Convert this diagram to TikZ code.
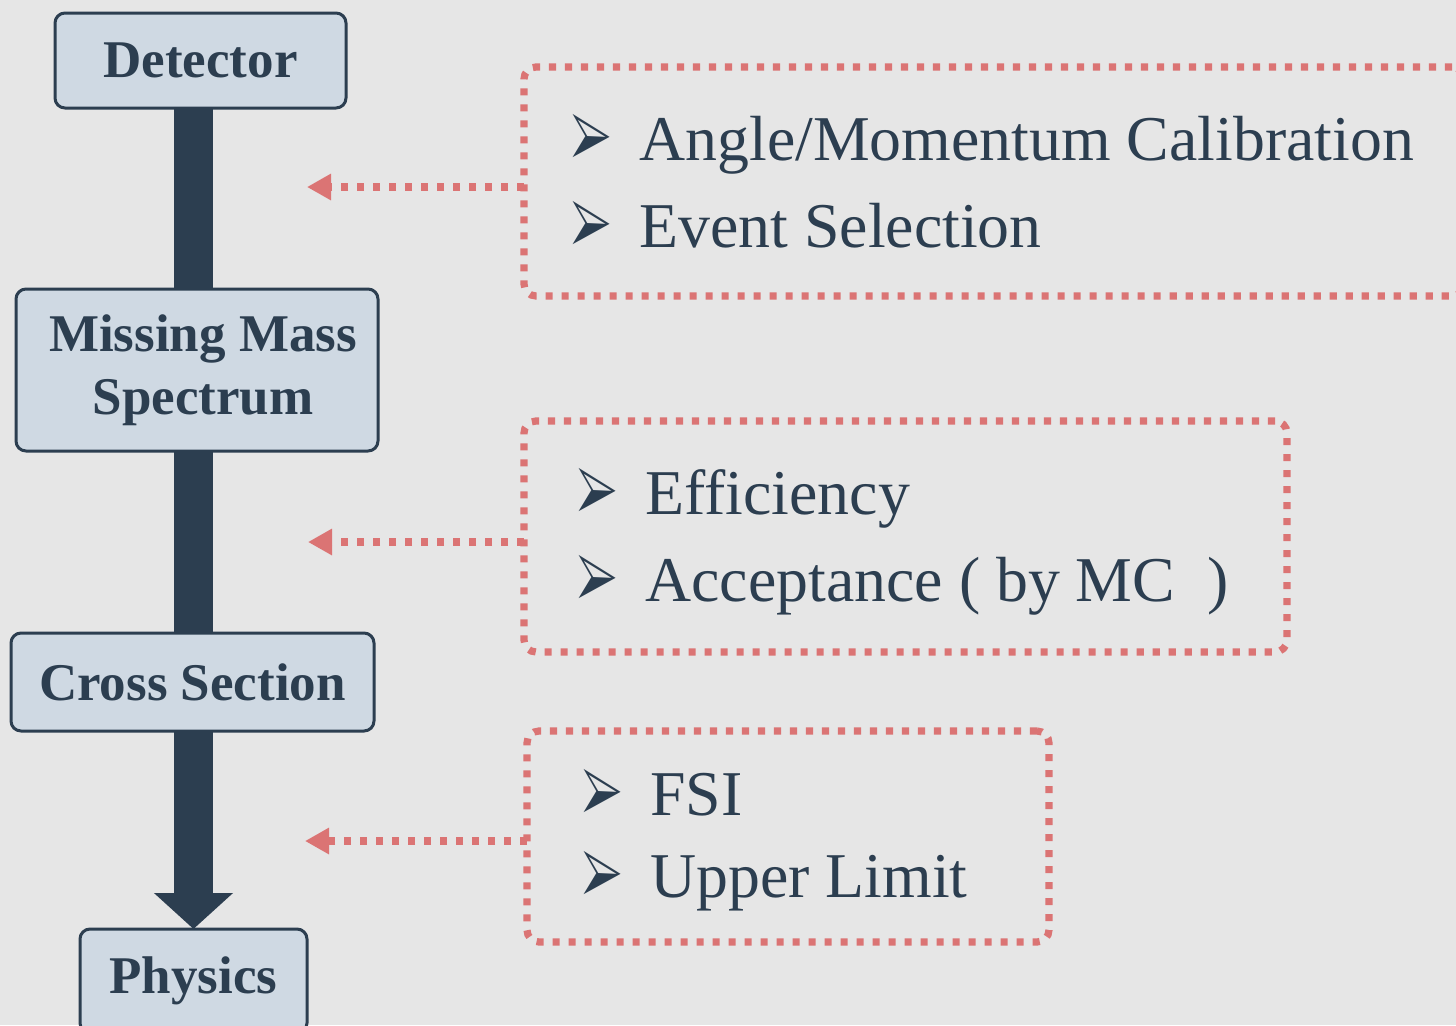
\documentclass[tikz,border=0pt]{standalone}
\usepackage{fontspec}
\setmainfont{Liberation Serif}
\usepackage{pifont}
\usetikzlibrary{arrows.meta}
\definecolor{navy}{HTML}{2C3E50}
\definecolor{paleblue}{HTML}{CFD9E3}
\definecolor{salmon}{HTML}{DB7474}
\definecolor{bggray}{HTML}{E6E6E6}
\newcommand{\bul}{\raisebox{-2.2pt}{\scalebox{0.68}[1.29]{\ding{226}}}\hspace{14pt}}

\begin{document}
\begin{tikzpicture}[x=0.5pt,y=-0.5pt,font=\fontsize{26.5}{31.5}\selectfont]
      \tikzstyle{stage box}=[draw=navy,fill=paleblue,line width=1.5pt,rounded corners=5pt,text=navy,font=\fontsize{26.5}{31.5}\selectfont\bfseries,align=center,inner sep=0pt,outer sep=0pt]
      \tikzstyle{note box}=[draw=salmon,line width=3.6pt,dash pattern=on 3.6pt off 4.4pt,rounded corners=6pt,anchor=north west,inner sep=0pt,outer sep=0pt]
      \tikzstyle{item}=[anchor=base west,inner sep=0pt,text=navy,font=\fontsize{31.9}{40}\selectfont]
      \tikzstyle{shaft}=[draw=navy,line width=19.5pt]
      \tikzstyle{note}=[draw=salmon,line width=3.6pt,dash pattern=on 3.6pt off 4.4pt,-{Triangle[length=12pt,width=12.5pt]}]

      \fill[bggray] (0,0) rectangle (1456,1025);
      \useasboundingbox (0,0) rectangle (1456,1025);

      % chain of stages
      \node[stage box,minimum width=145.5pt,minimum height=47.5pt] (det) at (200.5,60.5) {Detector};
      \node[stage box,minimum width=181pt,minimum height=81pt] (mms) at (197,370) {\hspace*{6pt}Missing Mass\\\hspace*{6pt}Spectrum};
      \node[stage box,minimum width=181.5pt,minimum height=49pt] (xsec) at (192.5,682) {Cross Section};
      \node[stage box,minimum width=113.5pt,minimum height=52pt,anchor=north] (phys) at (193.5,929) {Physics};

      \draw[shaft] (det.south -| phys.north) -- (mms.north -| phys.north);
      \draw[shaft] (mms.south -| phys.north) -- (xsec.north -| phys.north);
      \draw[shaft,-{Triangle[length=18pt,width=38.5pt]}] (xsec.south -| phys.north) -- (phys.north);

      % notes
      \node[note box,minimum width=470pt,minimum height=114.5pt] (calib) at (524,67) {};
      \node[item] (c1) at (571,160) {\bul Angle/Momentum Calibration};
      \node[item] (c2) at (571,247) {\bul Event Selection};

      \node[note box,minimum width=381.5pt,minimum height=115.5pt] (eff) at (524,421) {};
      \node[item] (e1) at (577,514) {\bul Efficiency};
      \node[item] (e2) at (577,601) {\bul Acceptance ( by MC~~)};

      \node[note box,minimum width=261pt,minimum height=105.5pt] (fsi) at (527,731) {};
      \node[item] (f1) at (582,815) {\bul FSI};
      \node[item] (f2) at (582,897) {\bul Upper Limit};

      \coordinate (t1) at (307,187);
      \coordinate (t2) at (308,542);
      \coordinate (t3) at (305,841);
      \draw[note] (t1 -| calib.west) -- (t1);
      \draw[note] (t2 -| eff.west) -- (t2);
      \draw[note] (t3 -| fsi.west) -- (t3);
\end{tikzpicture}
\end{document}
